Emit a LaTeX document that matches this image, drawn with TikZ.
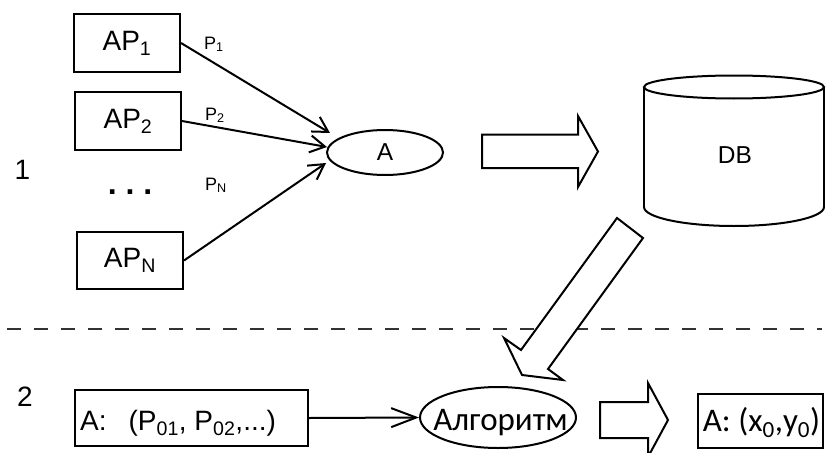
\documentclass[tikz,border=0pt]{standalone}
\usepackage{fontspec}
\setmainfont{Liberation Sans}
\newfontfamily\carl{Carlito}
\usetikzlibrary{arrows.meta,shapes.geometric}
\begin{document}
\begin{tikzpicture}[x=1pt,y=-1pt,
  lw/.style={line width=2pt},
  box/.style={draw,lw,rectangle,inner sep=0pt},
  oval/.style={draw,lw,ellipse,inner sep=0pt},
  fbig/.style={font=\fontsize{28}{32}\selectfont},
  fmid/.style={font=\fontsize{24.5}{28}\selectfont},
  fsmall/.style={font=\fontsize{18}{20}\selectfont},
  fcarl/.style={font=\carl\fontsize{33}{36}\selectfont},
  conn/.style={lw,-{Straight Barb[length=15pt,width=17pt,line width=2pt]}},
  bigconn/.style={lw,-{Straight Barb[length=25pt,width=19pt,line width=2pt]}},
  blockarrow/.style={lw,fill=white,line join=miter},
  sep/.style={line width=1.5pt,black!80,dash pattern=on 14pt off 13pt}
]
\useasboundingbox (0,0) rectangle (829,452);
\clip (0,0) rectangle (829,452);

% section labels
\node[fbig] (one) at (22.5,170) {1};
\node[fbig] (two) at (25,397) {2};

% AP boxes
\node[box,fbig,minimum width=106,minimum height=58] (ap1) at (127,43) {AP\textsubscript{1}};
\node[box,fbig,minimum width=106,minimum height=58] (ap2) at (128,121) {AP\textsubscript{2}};
\node[box,fbig,minimum width=106,minimum height=57] (apn) at (130,260.5) {AP\textsubscript{N}};
\node[font=\fontsize{32}{34}\selectfont\bfseries,anchor=base] (dots) at (130,194) {.\ .\ .};

% P labels
\node[fsmall,anchor=base west,inner sep=0pt] (p1) at (204,49) {P\textsubscript{1}};
\node[fsmall,anchor=base west,inner sep=0pt] (p2) at (205,120) {P\textsubscript{2}};
\node[fsmall,anchor=base west,inner sep=0pt] (pn) at (205,190) {P\textsubscript{N}};

% A ellipse
\node[oval,fmid,minimum width=116,minimum height=45] (A) at (385,152.5) {A};
\coordinate (t1) at (330,133);
\coordinate (t2) at (327,147);
\coordinate (t3) at (326,163);
\draw[conn] (ap1.east) -- (t1);
\draw[conn] (ap2.east) -- (t2);
\draw[conn] (apn.east) -- (t3);

% block arrow A -> DB
\draw[blockarrow] (482,134.5) -- (578,134.5) -- (578,116) -- (598,151.5) -- (578,187) -- (578,168) -- (482,168) -- cycle;

% DB cylinder
\draw[lw] (734,87) ellipse [x radius=90pt, y radius=11.5pt];
\draw[lw] (644,87) -- (644,207);
\draw[lw] (824,87) -- (824,207);
\draw[lw] (644,207) arc[start angle=180, end angle=360, x radius=90pt, y radius=19pt];
\node[fmid] (db) at (735,155.5) {DB};

% separator
\draw[sep] (7,329) -- (822,329);

% block arrow DB -> algorithm
\draw[blockarrow] (617,218) -- (521,350) -- (504,338) -- (522,375) -- (563,380) -- (548,369) -- (643,238) -- cycle;

% bottom row
\node[box,minimum width=233,minimum height=56] (inp) at (191.5,418) {};
\node[fbig,anchor=base west,inner sep=0pt] (inptext) at (80,430) {A:\hspace{22pt}(P\textsubscript{01}, P\textsubscript{02},...)};

\node[oval,minimum width=156,minimum height=61] (alg) at (498,417.5) {};
\node[fcarl,anchor=base,inner sep=0pt] (algtext) at (500.5,430) {Алгоритм};
\draw[bigconn] (inp.east) -- (alg.west);

\draw[blockarrow] (600,402) -- (648,402) -- (648,383) -- (668,420) -- (648,457) -- (648,438) -- (600,438) -- cycle;

\node[box,minimum width=125,minimum height=54] (out) at (760.5,421) {};
\node[fcarl,anchor=base,inner sep=0pt] (outtext) at (761.5,431.5) {A: (x\textsubscript{0},y\textsubscript{0})};
\end{tikzpicture}
\end{document}
